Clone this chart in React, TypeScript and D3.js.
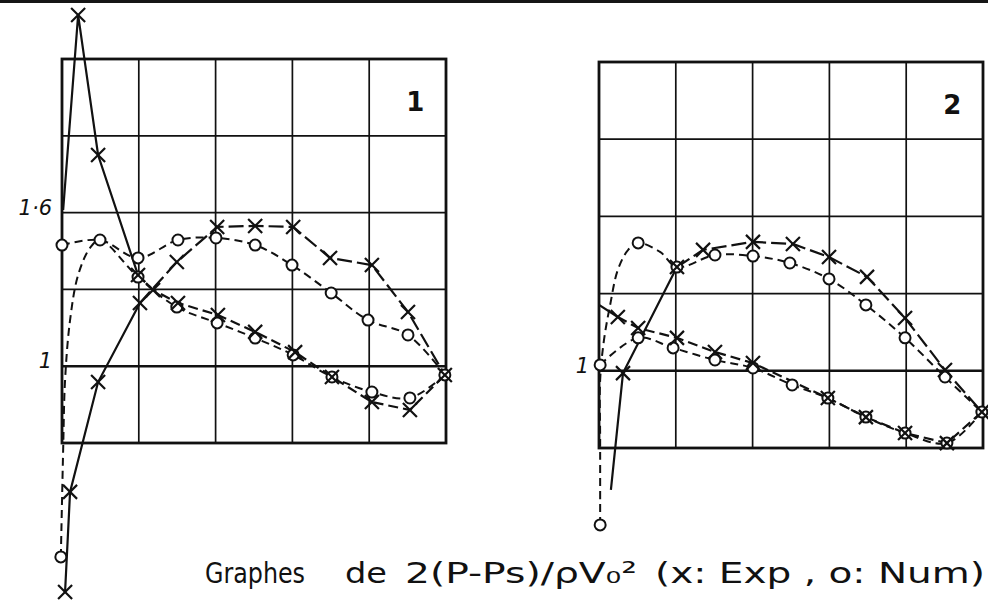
import React, { useEffect, useRef } from 'react';
import * as d3 from 'd3';

type Pt = [number, number, number?];

const W = 988;
const H = 604;

// axis values (x = chord fraction, y = 2(P-Ps)/rhoV0^2)
const xGrid = [0, 0.2, 0.4, 0.6, 0.8, 1];
const yGrid = [0.7, 1.0, 1.3, 1.6, 1.9, 2.2];
const yTicks1 = [1.6, 1.0];
const yTickLabels1 = ['1·6', '1'];
const yTicks2 = [1.0];
const yTickLabels2 = ['1'];

// third value = point drawn with a marker
// ---- graph 1
const p1ExpALead: Pt[] = [[0.008, 0.118, 1], [0.021, 0.509, 1], [0.094, 0.938, 1], [0.203, 1.247, 1]];
const p1ExpA: Pt[] = [[0.203, 1.247], [0.299, 1.407, 1], [0.404, 1.544, 1], [0.503, 1.548, 1], [0.602, 1.544, 1],
  [0.698, 1.423, 1], [0.807, 1.395, 1], [0.901, 1.212, 1], [0.997, 0.966, 1]];
const p1ExpBLead: Pt[] = [[0.003, 1.61], [0.042, 2.372, 1], [0.094, 1.825, 1], [0.198, 1.356, 1]];
const p1ExpB: Pt[] = [[0.198, 1.356], [0.237, 1.298, 1], [0.302, 1.247, 1], [0.406, 1.2, 1], [0.503, 1.134, 1],
  [0.607, 1.055, 1], [0.703, 0.958, 1], [0.807, 0.86, 1], [0.906, 0.829, 1], [0.997, 0.966]];
const p1NumU: Pt[] = [[0, 1.473, 1], [0.099, 1.493, 1], [0.198, 1.423, 1], [0.302, 1.493, 1], [0.401, 1.501, 1],
  [0.503, 1.473, 1], [0.599, 1.395, 1], [0.701, 1.286, 1], [0.797, 1.18, 1], [0.901, 1.122, 1], [0.997, 0.966]];
const p1NumL: Pt[] = [[-0.003, 0.255, 1], [0.003, 0.673], [0.008, 0.946], [0.021, 1.18], [0.042, 1.356],
  [0.073, 1.462], [0.099, 1.493], [0.198, 1.348, 1], [0.299, 1.231, 1], [0.404, 1.169, 1], [0.503, 1.11, 1],
  [0.602, 1.044, 1], [0.703, 0.958, 1], [0.807, 0.899, 1], [0.906, 0.876, 1], [0.997, 0.966, 1]];

// ---- graph 2
const p2ExpULead: Pt[] = [[0.031, 0.537], [0.0625, 0.991, 1], [0.203, 1.403, 1]];
const p2ExpU: Pt[] = [[0.203, 1.403], [0.271, 1.47, 1], [0.401, 1.501, 1], [0.505, 1.493, 1], [0.599, 1.442, 1],
  [0.698, 1.365, 1], [0.797, 1.205, 1], [0.901, 1.003, 1], [0.997, 0.84, 1]];
const p2ExpLLead: Pt[] = [[0, 1.256], [0.049, 1.209, 1]];
const p2ExpL: Pt[] = [[0.049, 1.209], [0.102, 1.166, 1], [0.203, 1.128, 1], [0.302, 1.073, 1], [0.401, 1.03, 1],
  [0.596, 0.894, 1], [0.695, 0.82, 1], [0.797, 0.758, 1], [0.906, 0.719, 1], [0.997, 0.84]];
const p2NumU: Pt[] = [[0.003, 0.401, 1], [0.003, 0.731], [0.003, 0.964], [0.013, 1.12], [0.029, 1.256],
  [0.049, 1.392], [0.076, 1.47], [0.102, 1.497, 1], [0.159, 1.462], [0.203, 1.403, 1], [0.302, 1.45, 1],
  [0.401, 1.446, 1], [0.497, 1.419, 1], [0.599, 1.357, 1], [0.695, 1.256, 1], [0.797, 1.128, 1],
  [0.901, 0.976, 1], [0.997, 0.84]];
const p2NumL: Pt[] = [[0.003, 1.023, 1], [0.102, 1.128, 1], [0.193, 1.089, 1], [0.302, 1.042, 1], [0.401, 1.011, 1],
  [0.503, 0.945, 1], [0.596, 0.894, 1], [0.695, 0.82, 1], [0.797, 0.758, 1], [0.906, 0.719, 1], [0.997, 0.84, 1]];

const panels = [
  {
    left: 62, right: 446, top: 59, bottom: 443, name: '1',
    ticks: yTicks1, tickLabels: yTickLabels1,
    series: [
      { data: p1ExpALead, kind: 'exp', dash: null },
      { data: p1ExpA, kind: 'exp', dash: '15,5' },
      { data: p1ExpBLead, kind: 'exp', dash: null },
      { data: p1ExpB, kind: 'exp', dash: '10,5' },
      { data: p1NumU, kind: 'num', dash: '8,5' },
      { data: p1NumL, kind: 'num', dash: '8,5' },
    ],
  },
  {
    left: 599, right: 983, top: 62, bottom: 448, name: '2',
    ticks: yTicks2, tickLabels: yTickLabels2,
    series: [
      { data: p2ExpULead, kind: 'exp', dash: null },
      { data: p2ExpU, kind: 'exp', dash: '15,5' },
      { data: p2ExpLLead, kind: 'exp', dash: null },
      { data: p2ExpL, kind: 'exp', dash: '10,5' },
      { data: p2NumU, kind: 'num', dash: '8,5' },
      { data: p2NumL, kind: 'num', dash: '8,5' },
    ],
  },
];

const App = () => {
  const svgRef = useRef<SVGSVGElement>(null);

  useEffect(() => {
    const svg = d3.select(svgRef.current);
    svg.selectAll('*').remove();

    svg.append('rect').attr('width', W).attr('height', H).attr('fill', '#fff');
    // dark scan edge along the top
    svg.append('rect').attr('x', 0).attr('y', 0).attr('width', W).attr('height', 3).attr('fill', '#161616');

    panels.forEach(p => {
      const x = d3.scaleLinear().domain([0, 1]).range([p.left, p.right]);
      const y = d3.scaleLinear().domain([0.7, 2.2]).range([p.bottom, p.top]);
      const g = svg.append('g');

      // grid
      g.selectAll('.vl').data(xGrid.slice(1, -1)).enter().append('line')
        .attr('x1', d => x(d)).attr('x2', d => x(d))
        .attr('y1', y(2.2)).attr('y2', y(0.7))
        .attr('stroke', '#111').attr('stroke-width', 1.7);
      g.selectAll('.hl').data(yGrid.slice(1, -1)).enter().append('line')
        .attr('x1', x(0)).attr('x2', x(1))
        .attr('y1', d => y(d)).attr('y2', d => y(d))
        .attr('stroke', '#111').attr('stroke-width', d => (d === 1.0 ? 2.4 : 1.7));
      g.append('rect')
        .attr('x', x(0)).attr('y', y(2.2))
        .attr('width', x(1) - x(0)).attr('height', y(0.7) - y(2.2))
        .attr('fill', 'none').attr('stroke', '#111').attr('stroke-width', 2.8);

      // tick labels
      g.selectAll('.tk').data(p.ticks).enter().append('text')
        .attr('x', x(0) - 10).attr('y', d => y(d) + 2)
        .attr('text-anchor', 'end')
        .attr('font-family', 'DejaVu Sans').attr('font-style', 'italic')
        .attr('font-size', 21).attr('fill', '#111')
        .text((d, i) => p.tickLabels[i]);

      // graph number
      g.append('text')
        .attr('x', x(0.92)).attr('y', y(2.2) + 52)
        .attr('text-anchor', 'middle')
        .attr('font-family', 'DejaVu Sans').attr('font-weight', 'bold')
        .attr('font-size', 26).attr('fill', '#111')
        .text(p.name);

      // curves
      p.series.forEach(s => {
        const line = d3.line<Pt>()
          .x(d => x(d[0]))
          .y(d => y(d[1]))
          .curve(s.kind === 'num' ? d3.curveCatmullRom.alpha(0.5) : d3.curveLinear);
        g.append('path')
          .datum(s.data)
          .attr('fill', 'none')
          .attr('stroke', '#111')
          .attr('stroke-width', s.kind === 'num' ? 2 : 2.2)
          .attr('stroke-dasharray', s.dash)
          .attr('d', line);
      });

      // circles (Num)
      p.series.filter(s => s.kind === 'num').forEach(s => {
        g.selectAll(null).data(s.data.filter(d => d[2])).enter().append('circle')
          .attr('cx', d => x(d[0])).attr('cy', d => y(d[1]))
          .attr('r', 5.5)
          .attr('fill', '#fff').attr('stroke', '#111').attr('stroke-width', 2);
      });

      // crosses (Exp)
      p.series.filter(s => s.kind === 'exp').forEach(s => {
        const pts = s.data.filter(d => d[2]);
        const c = g.selectAll(null).data(pts).enter().append('g')
          .attr('transform', d => `translate(${x(d[0])},${y(d[1])})`);
        c.append('line').attr('x1', -7).attr('y1', -7).attr('x2', 7).attr('y2', 7)
          .attr('stroke', '#111').attr('stroke-width', 2.2);
        c.append('line').attr('x1', -7).attr('y1', 7).attr('x2', 7).attr('y2', -7)
          .attr('stroke', '#111').attr('stroke-width', 2.2);
      });
    });

    // caption
    const cap = svg.append('g')
      .attr('font-family', 'DejaVu Sans').attr('font-size', 29).attr('fill', '#111');
    cap.append('text').attr('x', 205).attr('y', 583)
      .attr('textLength', 100).attr('lengthAdjust', 'spacingAndGlyphs').text('Graphes');
    cap.append('text').attr('x', 345).attr('y', 583)
      .attr('textLength', 42).attr('lengthAdjust', 'spacingAndGlyphs').text('de');
    cap.append('text').attr('x', 405).attr('y', 583)
      .attr('textLength', 232).attr('lengthAdjust', 'spacingAndGlyphs').text('2(P-Ps)/ρV₀²');
    cap.append('text').attr('x', 655).attr('y', 583)
      .attr('textLength', 330).attr('lengthAdjust', 'spacingAndGlyphs').text('(x: Exp , o: Num)');
  }, []);

  return (
    <svg ref={svgRef} width={W} height={H} style={{ position: 'absolute', left: 0, top: 0 }}></svg>
  );
};

export default App;
